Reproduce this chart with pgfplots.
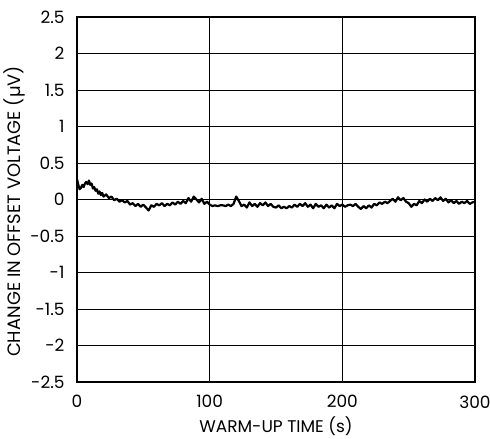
\documentclass[border=0pt]{standalone}
\usepackage{pgfplots}
\pgfplotsset{compat=1.18}
\usepackage{fontspec}
\setmainfont{Poppins}
\pgfplotstableread{
t v
0 0.28
1 0.2
2 0.14
3 0.16
4 0.2
5 0.17
6 0.22
7 0.24
8 0.21
9 0.26
10 0.2
11 0.22
12 0.15
13 0.17
14 0.12
15 0.14
16 0.08
17 0.11
18 0.06
19 0.09
20 0.04
22 0.07
24 0.02
26 0.04
28 -0.01
30 0.01
32 -0.03
34 -0.01
36 -0.04
38 -0.02
40 -0.07
42 -0.05
44 -0.09
46 -0.06
48 -0.1
50 -0.07
52 -0.11
54 -0.15
56 -0.08
58 -0.1
60 -0.06
62 -0.08
64 -0.05
66 -0.09
68 -0.06
70 -0.08
72 -0.04
74 -0.07
76 -0.03
78 -0.06
80 -0.02
82 -0.05
84 0.02
86 -0.03
88 0.04
90 0.0
92 -0.04
94 0.01
96 -0.06
98 -0.03
100 -0.07
102 -0.09
104 -0.08
106 -0.09
108 -0.08
110 -0.08
112 -0.09
114 -0.07
116 -0.09
118 -0.06
120 0.04
122 -0.02
124 -0.09
126 -0.07
128 -0.11
130 -0.04
132 -0.09
134 -0.06
136 -0.1
138 -0.05
140 -0.08
142 -0.04
144 -0.09
146 -0.06
148 -0.1
150 -0.11
152 -0.08
154 -0.12
156 -0.1
158 -0.12
160 -0.09
162 -0.11
164 -0.07
166 -0.1
168 -0.06
170 -0.09
172 -0.05
174 -0.1
176 -0.07
178 -0.12
180 -0.06
182 -0.1
184 -0.08
186 -0.12
188 -0.07
190 -0.11
192 -0.08
194 -0.12
196 -0.06
198 -0.09
200 -0.07
202 -0.1
204 -0.08
206 -0.07
208 -0.09
210 -0.06
212 -0.1
214 -0.13
216 -0.09
218 -0.12
220 -0.08
222 -0.11
224 -0.06
226 -0.08
228 -0.04
230 -0.06
232 -0.03
234 -0.05
236 -0.02
238 0.01
240 -0.03
242 0.03
244 -0.01
246 0.02
248 -0.03
250 -0.05
252 -0.1
254 -0.06
256 -0.08
258 -0.02
260 -0.05
262 0.0
264 -0.03
266 0.01
268 -0.02
270 0.02
272 -0.01
274 0.03
276 -0.02
278 0.01
280 -0.04
282 -0.01
284 -0.05
286 -0.02
288 -0.06
290 -0.03
292 -0.05
294 -0.02
296 -0.06
298 -0.04
300 -0.03
}\datatable
\begin{document}
\begin{tikzpicture}
\useasboundingbox (-77bp,-57bp) rectangle (413bp,382bp);
\begin{axis}[
  scale only axis,
  width=398bp, height=365bp,
  xmin=0, xmax=300, ymin=-2.5, ymax=2.5,
  xtick={0,100,200,300},
  ytick={-2.5,-2,-1.5,-1,-0.5,0,0.5,1,1.5,2,2.5},
  yticklabels={-2.5,-2,-1.5,-1,-0.5,0,0.5,1,1.5,2,2.5},
  xticklabels={0,100,200,300},
  major tick length=0pt,
  grid=major,
  major grid style={black, line width=1bp},
  axis line style={black, line width=2.6bp},
  ticklabel style={font=\fontsize{17}{19}\selectfont},
  xlabel style={font=\fontsize{17}{19}\selectfont},
  ylabel style={font=\fontsize{18}{20}\selectfont},
  xticklabel style={yshift=-10bp},
  yticklabel style={xshift=-9bp},
  xlabel={WARM-UP TIME (s)},
  ylabel={CHANGE IN OFFSET VOLTAGE (µV)},
  xlabel style={yshift=-2bp},
  ylabel style={yshift=-2bp, xshift=-12bp},
]
\addplot[black, line width=2.2bp, line join=round] table[x=t, y=v] {\datatable};
\end{axis}
\end{tikzpicture}
\end{document}
